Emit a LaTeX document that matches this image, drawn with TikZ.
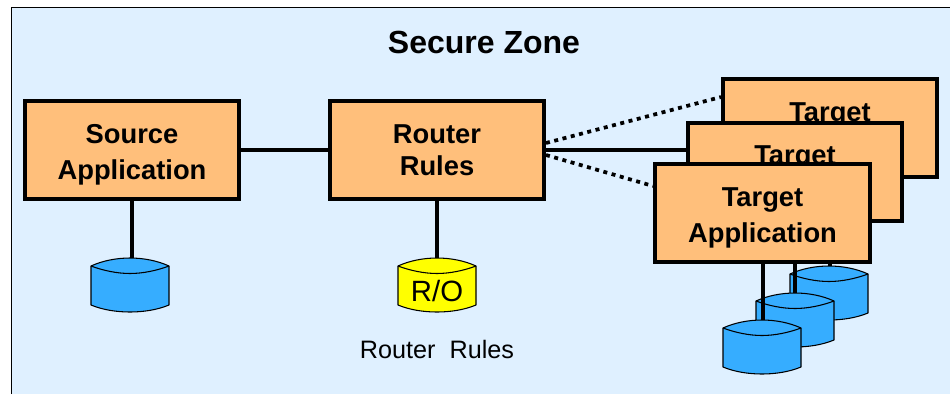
\documentclass[tikz,border=0pt]{standalone}
\usepackage{fontspec}
\setmainfont{Liberation Sans}
\definecolor{zonebg}{HTML}{DFF0FF}
\definecolor{boxfill}{HTML}{FFBF7B}
\definecolor{diskblue}{HTML}{36ADFF}
\definecolor{diskyellow}{HTML}{FFFF00}
\tikzset{
  appbox/.style={draw=black,fill=boxfill,line width=3pt,rectangle,minimum width=161pt,minimum height=73.5pt,inner sep=0pt,align=center,font=\fontsize{20.5}{27}\selectfont\bfseries},
  link/.style={draw=black,line width=3pt},
  dotlink/.style={draw=black,line width=2.8pt,dash pattern=on 3pt off 3.4pt},
  diskline/.style={draw=black,line width=0.8pt,line join=round},
  diskanchor/.style={rectangle,minimum width=58.5pt,minimum height=40.5pt,inner sep=0pt,outer sep=0pt,anchor=north west},
}
\newcommand{\boxlines}[2]{\rule{0pt}{21pt}#1\\#2}
\newcommand{\diskat}[5]{%
  \begin{scope}[shift={(#2,#3)}]
    \path[diskline,fill=#4] (0,8) .. controls (12,2.5) and (26,0) .. (39,0) .. controls (52,0) and (66,2.5) .. (78,8)
      -- (78,47) .. controls (66,52) and (52,54) .. (39,54) .. controls (26,54) and (12,52) .. (0,47) -- cycle;
    \draw[diskline] (0,8) .. controls (12,12.5) and (26,15.5) .. (39,15.5) .. controls (52,15.5) and (66,12.5) .. (78,8);
    \node[diskanchor] (#1) at (0,0) {};
    #5
  \end{scope}}
\begin{document}
\begin{tikzpicture}[x=0.75pt,y=-0.75pt]
\useasboundingbox (0,0) rectangle (950,394);
\fill[zonebg] (11.5,7.5) rectangle (950,394);
\draw[black,line width=0.8pt] (11.5,394) -- (11.5,7.5) -- (950,7.5);
\node[font=\fontsize{24}{28}\selectfont\bfseries] (title) at (484,42) {Secure Zone};

\coordinate (dotAstart) at (546,143);
\coordinate (dotAend) at (721,97);
\coordinate (dotBstart) at (546,155);
\coordinate (dotBend) at (653,186);

\node[appbox] (source) at (132,150) {\boxlines{Source}{Application}};
\node[appbox,font=\fontsize{20.5}{24}\selectfont\bfseries] (router) at (437,150) {Router\\Rules};
\node[appbox] (targetA) at (830,128) {\boxlines{Target}{\phantom{Application}}};
\node[appbox] (targetB) at (795,171.5) {\boxlines{Target}{\phantom{Application}}};

\draw[link] (source.east) -- (router.west);
\draw[link] (router.east) -- (router.east -| targetB.west);
\draw[dotlink] (dotAstart) -- (dotAend);
\draw[dotlink] (dotBstart) -- (dotBend);

\diskat{diskS}{91}{258}{diskblue}{}
\draw[link] (source.south) -- (source.south |- diskS.north);
\diskat{diskR}{398}{258}{diskyellow}{\node[font=\fontsize{22}{25}\selectfont] (ro) at (39,33) {R/O};}
\draw[link] (router.south) -- (router.south |- diskR.north);
\node[font=\fontsize{18.9}{23}\selectfont] (rlabel) at (437,349) {Router\ \ Rules};

\diskat{diskA}{790}{266}{diskblue}{}
\draw[link] (targetA.south) -- (targetA.south |- diskA.north);
\diskat{diskB}{756}{293}{diskblue}{}
\draw[link] (targetB.south) -- (targetB.south |- diskB.north);
\diskat{diskC}{723}{320}{diskblue}{}
\node[appbox] (targetC) at (762.5,213) {\boxlines{Target}{Application}};
\draw[link] (targetC.south) -- (targetC.south |- diskC.north);
\end{tikzpicture}
\end{document}
